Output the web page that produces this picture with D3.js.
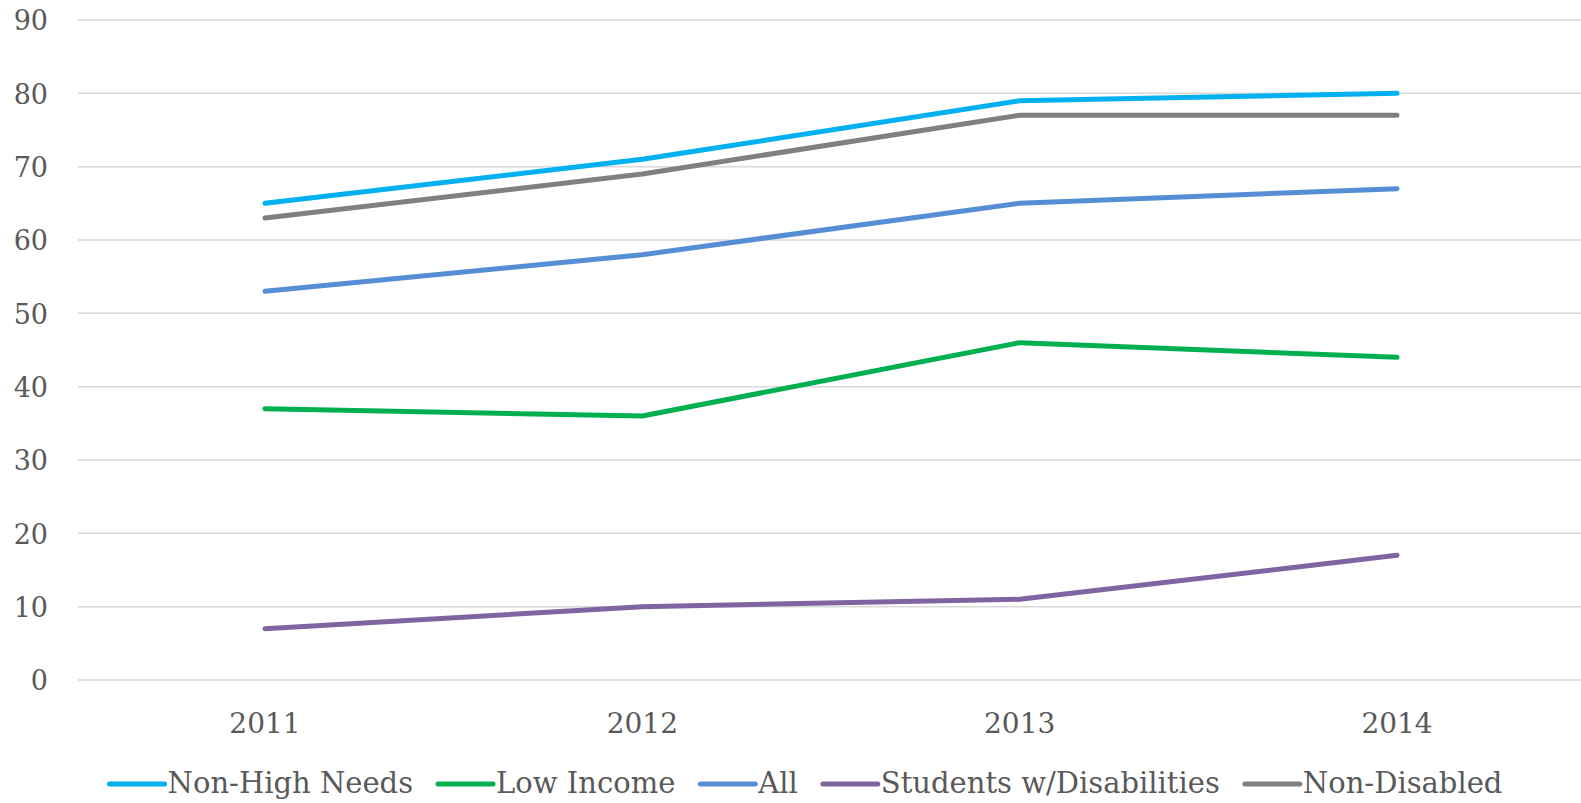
<!DOCTYPE html>
<html><head><meta charset="utf-8">
<script src="https://cdn.jsdelivr.net/npm/d3@7"></script>
<style>html,body{margin:0;padding:0;background:#fff;overflow:hidden}</style>
</head><body>
<svg id="c" width="1581" height="803"></svg>
<script>
const years = ["2011", "2012", "2013", "2014"];
const seriesNames = ["Non-High Needs", "Low Income", "All", "Students w/Disabilities", "Non-Disabled"];
const nonHighNeeds = [65, 71, 79, 80];
const lowIncome = [37, 36, 46, 44];
const allStudents = [53, 58, 65, 67];
const studentsWithDisabilities = [7, 10, 11, 17];
const nonDisabled = [63, 69, 77, 77];
const yTicks = [0, 10, 20, 30, 40, 50, 60, 70, 80, 90];
const colors = ["#00B0F0", "#00B050", "#558ED5", "#8064A2", "#808080"];

const series = [
  {name: seriesNames[0], values: nonHighNeeds, color: colors[0]},
  {name: seriesNames[1], values: lowIncome, color: colors[1]},
  {name: seriesNames[2], values: allStudents, color: colors[2]},
  {name: seriesNames[3], values: studentsWithDisabilities, color: colors[3]},
  {name: seriesNames[4], values: nonDisabled, color: colors[4]}
];

const W = 1581, H = 803;
const svg = d3.select("#c");
const font = "'DejaVu Serif', serif";
const textColor = "#595959";

const x = d3.scaleBand().domain(years).range([76.3, 1585.7]);
const y = d3.scaleLinear().domain([0, 90]).range([680, 20]);

// gridlines
svg.append("g").selectAll("line").data(yTicks).join("line")
  .attr("x1", 78).attr("x2", W)
  .attr("y1", d => y(d)).attr("y2", d => y(d))
  .attr("stroke", "#d9d9d9").attr("stroke-width", 1.5);

// y axis labels
const yAxis = d3.axisLeft(y).tickValues(yTicks).tickSize(0).tickPadding(0);
const gy = svg.append("g").attr("transform", "translate(48,0)").call(yAxis);
gy.select(".domain").remove();
gy.selectAll("text").attr("font-family", font).attr("font-size", 27)
  .attr("fill", textColor).attr("dy", "0.36em");

// x axis labels
const xAxis = d3.axisBottom(x).tickSize(0).tickPadding(0);
const gx = svg.append("g").attr("transform", "translate(0,733)").call(xAxis);
gx.select(".domain").remove();
gx.selectAll("text").attr("font-family", font).attr("font-size", 28)
  .attr("fill", textColor).attr("dy", 0);

// lines
const line = d3.line().x((d, i) => x(years[i]) + x.bandwidth() / 2).y(d => y(d));
svg.append("g").selectAll("path").data(series).join("path")
  .attr("d", d => line(d.values))
  .attr("fill", "none").attr("stroke", d => d.color)
  .attr("stroke-width", 5).attr("stroke-linecap", "round").attr("stroke-linejoin", "round");

// legend (sequential layout, centered)
const lineLen = 55, textGap = 3, itemGap = 25, legendCenter = 806;
const lg = svg.append("g");
const items = series.map(s => {
  const g = lg.append("g");
  g.append("line").attr("x1", 0).attr("x2", lineLen).attr("y1", 784).attr("y2", 784)
    .attr("stroke", s.color).attr("stroke-width", 5).attr("stroke-linecap", "round");
  const t = g.append("text").attr("x", lineLen + textGap).attr("y", 793)
    .attr("font-family", font).attr("font-size", 29).attr("fill", textColor)
    .text(s.name);
  return {g, w: lineLen + textGap + t.node().getComputedTextLength()};
});
const total = d3.sum(items, d => d.w) + itemGap * (items.length - 1);
let cx = legendCenter - total / 2;
items.forEach(it => { it.g.attr("transform", `translate(${cx},0)`); cx += it.w + itemGap; });
</script>
</body></html>
